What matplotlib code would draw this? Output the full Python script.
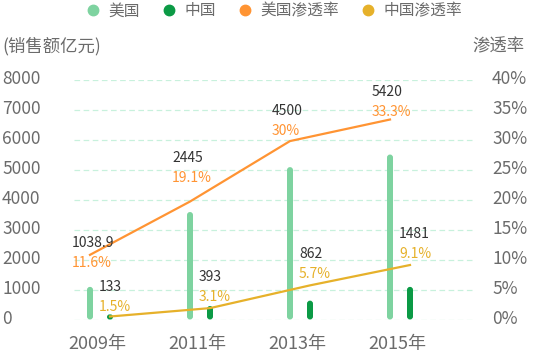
import matplotlib
matplotlib.use('Agg')
import matplotlib.pyplot as plt
from matplotlib.patches import FancyBboxPatch
from matplotlib.lines import Line2D
from matplotlib.transforms import ScaledTranslation
import numpy as np

plt.rcParams['font.family'] = ['Noto Sans CJK SC', 'DejaVu Sans']

# ---------------- data ----------------
years = ['2009年', '2011年', '2013年', '2015年']
us_bar = [1090, 3590, 5090, 5510]
cn_bar = [170, 450, 630, 1090]
us_rate = [10.8, 19.7, 29.8, 33.4]
cn_rate = [0.5, 1.9, 5.7, 9.1]
us_sales_label = ['1038.9', '2445', '4500', '5420']
us_rate_label = ['11.6%', '19.1%', '30%', '33.3%']
cn_sales_label = ['133', '393', '862', '1481']
cn_rate_label = ['1.5%', '3.1%', '5.7%', '9.1%']
left_ticks = [0, 1000, 2000, 3000, 4000, 5000, 6000, 7000, 8000]
right_ticks = [0, 5, 10, 15, 20, 25, 30, 35, 40]
legend_names = ['美国', '中国', '美国渗透率', '中国渗透率']

# label anchor heights (left-axis units)
us_label_y = [2550, 5380, 6960, 7590]
cn_label_y = [1070, 1430, 2180, 2850]

# ---------------- style ----------------
US_BAR = '#7ed3a0'
CN_BAR = '#0b9a45'
US_LINE = '#ff9433'
CN_LINE = '#e6b12a'
TEXT = '#6b6b6b'
NUM = '#333333'
GRID = '#c8f1dd'

W, H = 545, 355
fig = plt.figure(figsize=(W / 100, H / 100), dpi=100)
ax = fig.add_axes([74 / W, 1 - 319.5 / H, (473 - 74) / W, (319.5 - 80) / H])
ax.set_xlim(-0.26, 3.73)
ax.set_ylim(0, 8000)

x = np.arange(len(years))
off = 0.1
bw = 0.06

# grid
for t in left_ticks:
    ax.axhline(t, color=GRID, lw=0.9, ls=(0, (4.5, 2.8)), zorder=0)

bars_us = ax.bar(x - off, us_bar, width=bw, color=US_BAR, zorder=2)
bars_cn = ax.bar(x + off, cn_bar, width=bw, color=CN_BAR, zorder=2)

# convert to rounded bars
fig.canvas.draw()
p0 = ax.transData.transform((0, 0))
p1 = ax.transData.transform((1, 1))
px_x = p1[0] - p0[0]
px_y = p1[1] - p0[1]
aspect = (1 / px_y) / (1 / px_x)
for bars in (bars_us, bars_cn):
    for r in bars:
        xx, yy = r.get_xy()
        w, h = r.get_width(), r.get_height()
        rad = min(w / 2, h / aspect / 2)
        fb = FancyBboxPatch((xx, yy), w, h,
                            boxstyle=f"round,pad=0,rounding_size={rad}",
                            mutation_aspect=aspect,
                            facecolor=r.get_facecolor(), edgecolor='none',
                            zorder=2, clip_on=False)
        ax.add_patch(fb)
        r.set_visible(False)

up = ScaledTranslation(0, 3 / 100, fig.dpi_scale_trans)

# axes styling
for s in ax.spines.values():
    s.set_visible(False)
ax.set_yticks(left_ticks)
ax.set_yticklabels([str(t) for t in left_ticks])
ax.tick_params(axis='y', length=0, pad=51.8, labelsize=12.5, labelcolor=TEXT)
for lb in ax.get_yticklabels():
    lb.set_ha('left')
    lb.set_transform(lb.get_transform() + up)
ax.set_xticks(x - 0.03)
ax.set_xticklabels(years)
ax.tick_params(axis='x', length=0, pad=11.5, labelsize=13, labelcolor=TEXT)

ax2 = ax.twinx()
ax2.set_ylim(0, 40)
for s in ax2.spines.values():
    s.set_visible(False)
ax2.set_yticks(right_ticks)
ax2.set_yticklabels([f'{t}%' for t in right_ticks])
ax2.tick_params(axis='y', length=0, pad=13.7, labelsize=12.5, labelcolor=TEXT)
for lb in ax2.get_yticklabels():
    lb.set_ha('left')
    lb.set_transform(lb.get_transform() + up)

ax2.plot(x - off, us_rate, color=US_LINE, lw=1.6, zorder=3, solid_joinstyle='miter')
ax2.plot(x + off, cn_rate, color=CN_LINE, lw=1.6, zorder=3, solid_joinstyle='miter')

# data labels
for i in range(len(years)):
    ax2.annotate(us_sales_label[i], xy=(x[i] - off, us_label_y[i] / 200), xytext=(-13, 0),
                 textcoords='offset points', ha='left', va='center', fontsize=10, color=NUM)
    ax2.annotate(us_rate_label[i], xy=(x[i] - off, us_label_y[i] / 200), xytext=(-13, -14.4),
                 textcoords='offset points', ha='left', va='center', fontsize=10, color=US_LINE)
    ax2.annotate(cn_sales_label[i], xy=(x[i] + off, cn_label_y[i] / 200), xytext=(-8, 0),
                 textcoords='offset points', ha='left', va='center', fontsize=10, color=NUM)
    ax2.annotate(cn_rate_label[i], xy=(x[i] + off, cn_label_y[i] / 200), xytext=(-8, -14.4),
                 textcoords='offset points', ha='left', va='center', fontsize=10, color=CN_LINE)

# axis titles
fig.text(2 / W, 1 - 46 / H, '(销售额亿元)', ha='left', va='center', fontsize=12.5, color=TEXT)
fig.text(472 / W, 1 - 46 / H, '渗透率', ha='left', va='center', fontsize=12.5, color=TEXT)

# legend
handles = [Line2D([], [], ls='none', marker='o', markersize=7.5, color=c)
           for c in (US_BAR, CN_BAR, US_LINE, CN_LINE)]
fig.legend(handles, legend_names, loc='center', bbox_to_anchor=(273.7 / W, 1 - 11 / H),
           ncol=4, frameon=False, fontsize=11.3, labelcolor=TEXT, handlelength=1.0,
           handletextpad=0.44, columnspacing=1.39, borderpad=0)

fig.savefig('out.png', dpi=100)
